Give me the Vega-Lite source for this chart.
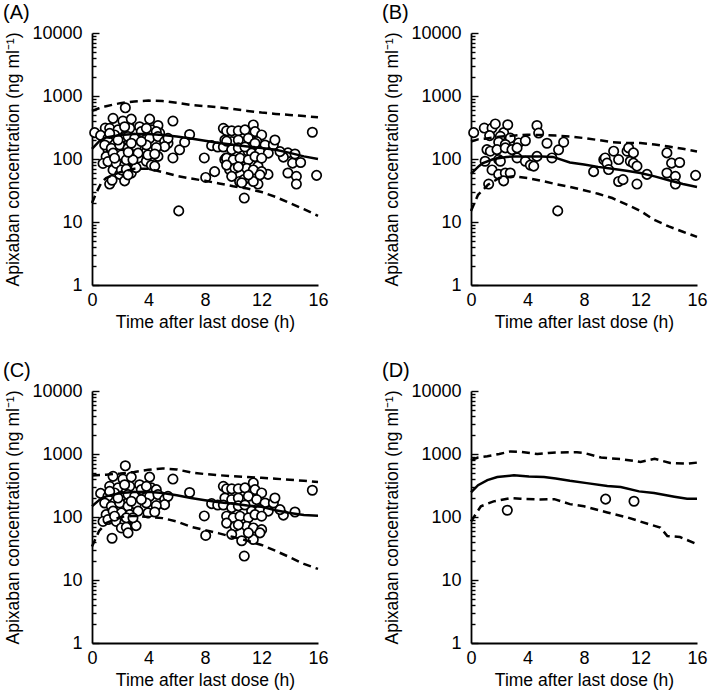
{
"$schema": "https://vega.github.io/schema/vega-lite/v6.json",
"background": "white",
"padding": {"left": 3, "top": 3, "right": 2, "bottom": 2},
"columns": 2,
"spacing": {"row": 106, "column": 153},
"bounds": "flush",
"config": {
  "view": {"stroke": null},
  "font": "Liberation Sans",
  "axis": {"grid": false, "domainColor": "black", "domainWidth": 1.8, "tickColor": "black", "tickWidth": 1.4,
    "gridColor": "black", "gridWidth": 1.4, "gridOpacity": 1,
    "labelFont": "Liberation Sans", "labelFontSize": 18, "labelColor": "black",
    "titleFont": "Liberation Sans", "titleFontSize": 17.5, "titleFontWeight": "normal", "titleColor": "black"},
  "axisX": {"ticks": false, "labelPadding": 6, "titlePadding": 4, "labelFlush": false},
  "axisY": {"labelPadding": 10, "titlePadding": 9, "labelOverlap": false},
  "title": {"font": "Liberation Sans", "fontSize": 20, "fontWeight": "normal", "color": "black", "anchor": "start", "frame": "group", "dx": -89, "offset": 1}
},
"datasets": {
"pts": [
{"g":"B","t":0.19,"c":262},{"g":"B","t":0.94,"c":310},{"g":"B","t":1.49,"c":310},{"g":"B","t":1.72,"c":360},{"g":"B","t":2.31,"c":262},{"g":"B","t":2.6,"c":350},{"g":"B","t":1.32,"c":235},{"g":"B","t":2.08,"c":229},{"g":"B","t":2.78,"c":215},{"g":"B","t":3.37,"c":180},{"g":"B","t":1.96,"c":185},{"g":"B","t":2.43,"c":170},{"g":"B","t":1.13,"c":141},{"g":"B","t":1.37,"c":133},{"g":"B","t":1.84,"c":141},{"g":"B","t":2.43,"c":150},{"g":"B","t":2.9,"c":141},{"g":"B","t":3.26,"c":150},{"g":"B","t":3.85,"c":195},{"g":"B","t":1.0,"c":92},{"g":"B","t":1.96,"c":98},{"g":"B","t":2.08,"c":92},{"g":"B","t":3.26,"c":104},{"g":"B","t":3.85,"c":92},{"g":"B","t":4.2,"c":80},{"g":"B","t":4.44,"c":77},{"g":"B","t":4.67,"c":110},{"g":"B","t":1.49,"c":67},{"g":"B","t":1.96,"c":57},{"g":"B","t":2.43,"c":60},{"g":"B","t":2.78,"c":60},{"g":"B","t":2.31,"c":45},{"g":"B","t":1.25,"c":40},{"g":"B","t":4.67,"c":340},{"g":"B","t":4.79,"c":258},{"g":"B","t":5.38,"c":178},{"g":"B","t":5.73,"c":104},{"g":"B","t":6.2,"c":140},{"g":"B","t":6.56,"c":185},{"g":"B","t":6.14,"c":15},{"g":"B","t":8.68,"c":63},{"g":"B","t":9.4,"c":98},{"g":"B","t":9.5,"c":104},{"g":"B","t":9.63,"c":86},{"g":"B","t":9.74,"c":68},{"g":"B","t":10.1,"c":133},{"g":"B","t":10.45,"c":98},{"g":"B","t":10.45,"c":44},{"g":"B","t":10.76,"c":47},{"g":"B","t":11.05,"c":133},{"g":"B","t":11.16,"c":150},{"g":"B","t":11.28,"c":92},{"g":"B","t":11.5,"c":125},{"g":"B","t":11.5,"c":86},{"g":"B","t":11.75,"c":77},{"g":"B","t":11.75,"c":40},{"g":"B","t":12.46,"c":57},{"g":"B","t":13.87,"c":125},{"g":"B","t":13.87,"c":60},{"g":"B","t":14.2,"c":86},{"g":"B","t":14.47,"c":53},{"g":"B","t":14.47,"c":40},{"g":"B","t":14.77,"c":88},{"g":"B","t":15.9,"c":55},
{"g":"C","t":0.61,"c":237},{"g":"C","t":2.36,"c":650},{"g":"C","t":1.49,"c":442},{"g":"C","t":2.19,"c":400},{"g":"C","t":2.78,"c":430},{"g":"C","t":4.08,"c":430},{"g":"C","t":5.73,"c":400},{"g":"C","t":1.25,"c":307},{"g":"C","t":1.84,"c":290},{"g":"C","t":2.67,"c":307},{"g":"C","t":3.37,"c":325},{"g":"C","t":4.2,"c":290},{"g":"C","t":4.55,"c":272},{"g":"C","t":1.13,"c":213},{"g":"C","t":1.6,"c":241},{"g":"C","t":2.08,"c":213},{"g":"C","t":2.55,"c":227},{"g":"C","t":3.02,"c":213},{"g":"C","t":3.61,"c":241},{"g":"C","t":4.08,"c":213},{"g":"C","t":4.67,"c":227},{"g":"C","t":5.14,"c":189},{"g":"C","t":5.38,"c":213},{"g":"C","t":5.14,"c":157},{"g":"C","t":6.91,"c":245},{"g":"C","t":0.9,"c":167},{"g":"C","t":1.37,"c":148},{"g":"C","t":1.96,"c":167},{"g":"C","t":2.55,"c":148},{"g":"C","t":3.12,"c":157},{"g":"C","t":3.85,"c":167},{"g":"C","t":4.55,"c":152},{"g":"C","t":1.0,"c":109},{"g":"C","t":1.49,"c":124},{"g":"C","t":2.08,"c":116},{"g":"C","t":2.67,"c":109},{"g":"C","t":3.26,"c":124},{"g":"C","t":3.96,"c":116},{"g":"C","t":4.44,"c":120},{"g":"C","t":0.78,"c":85},{"g":"C","t":1.13,"c":91},{"g":"C","t":1.72,"c":85},{"g":"C","t":2.31,"c":80},{"g":"C","t":3.02,"c":75},{"g":"C","t":2.08,"c":67},{"g":"C","t":2.43,"c":69},{"g":"C","t":3.12,"c":73},{"g":"C","t":1.42,"c":46},{"g":"C","t":1.25,"c":255},{"g":"C","t":2.31,"c":325},{"g":"C","t":3.49,"c":272},{"g":"C","t":3.85,"c":307},{"g":"C","t":1.84,"c":200},{"g":"C","t":2.78,"c":178},{"g":"C","t":3.49,"c":189},{"g":"C","t":1.6,"c":103},{"g":"C","t":2.43,"c":97},{"g":"C","t":2.9,"c":97},{"g":"C","t":2.55,"c":56},
{"g":"C","t":7.95,"c":104},{"g":"C","t":8.05,"c":51},{"g":"C","t":8.47,"c":163},{"g":"C","t":8.9,"c":155},{"g":"C","t":9.3,"c":307},{"g":"C","t":9.53,"c":280},{"g":"C","t":9.89,"c":280},{"g":"C","t":10.36,"c":280},{"g":"C","t":10.83,"c":290},{"g":"C","t":11.42,"c":347},{"g":"C","t":11.54,"c":272},{"g":"C","t":12.01,"c":241},{"g":"C","t":9.41,"c":200},{"g":"C","t":9.89,"c":189},{"g":"C","t":10.36,"c":200},{"g":"C","t":11.07,"c":213},{"g":"C","t":11.66,"c":189},{"g":"C","t":12.25,"c":167},{"g":"C","t":12.84,"c":167},{"g":"C","t":12.95,"c":200},{"g":"C","t":13.55,"c":107},{"g":"C","t":14.37,"c":120},{"g":"C","t":15.6,"c":266},{"g":"C","t":9.3,"c":155},{"g":"C","t":9.89,"c":141},{"g":"C","t":10.36,"c":150},{"g":"C","t":10.83,"c":155},{"g":"C","t":11.3,"c":124},{"g":"C","t":11.89,"c":131},{"g":"C","t":12.48,"c":124},{"g":"C","t":13.31,"c":131},{"g":"C","t":9.53,"c":103},{"g":"C","t":10.0,"c":97},{"g":"C","t":10.48,"c":103},{"g":"C","t":11.07,"c":97},{"g":"C","t":11.54,"c":109},{"g":"C","t":12.01,"c":103},{"g":"C","t":9.53,"c":80},{"g":"C","t":10.12,"c":71},{"g":"C","t":10.95,"c":71},{"g":"C","t":11.42,"c":67},{"g":"C","t":12.01,"c":63},{"g":"C","t":9.89,"c":53},{"g":"C","t":10.6,"c":42},{"g":"C","t":11.42,"c":44},{"g":"C","t":10.78,"c":24},{"g":"C","t":11.89,"c":56},{"g":"C","t":11.07,"c":56},{"g":"C","t":10.36,"c":75},
{"g":"D","t":2.57,"c":128},{"g":"D","t":9.53,"c":192},{"g":"D","t":11.54,"c":178}
],
"lines": [
{"p":"A","k":"med","t":0,"c":145},{"p":"A","k":"med","t":0.5,"c":190},{"p":"A","k":"med","t":1,"c":220},{"p":"A","k":"med","t":2,"c":240},{"p":"A","k":"med","t":3,"c":250},{"p":"A","k":"med","t":4,"c":250},{"p":"A","k":"med","t":5,"c":240},{"p":"A","k":"med","t":6,"c":228},{"p":"A","k":"med","t":7,"c":212},{"p":"A","k":"med","t":8,"c":195},{"p":"A","k":"med","t":9,"c":180},{"p":"A","k":"med","t":10,"c":168},{"p":"A","k":"med","t":11,"c":158},{"p":"A","k":"med","t":12,"c":150},{"p":"A","k":"med","t":13,"c":140},{"p":"A","k":"med","t":14,"c":125},{"p":"A","k":"med","t":15,"c":110},{"p":"A","k":"med","t":16,"c":100},
{"p":"A","k":"hi","t":0,"c":580},{"p":"A","k":"hi","t":0.5,"c":640},{"p":"A","k":"hi","t":1,"c":690},{"p":"A","k":"hi","t":2,"c":770},{"p":"A","k":"hi","t":3,"c":820},{"p":"A","k":"hi","t":4,"c":845},{"p":"A","k":"hi","t":5,"c":830},{"p":"A","k":"hi","t":6,"c":780},{"p":"A","k":"hi","t":7,"c":720},{"p":"A","k":"hi","t":8,"c":690},{"p":"A","k":"hi","t":9,"c":660},{"p":"A","k":"hi","t":10,"c":620},{"p":"A","k":"hi","t":11,"c":580},{"p":"A","k":"hi","t":12,"c":545},{"p":"A","k":"hi","t":13,"c":520},{"p":"A","k":"hi","t":14,"c":500},{"p":"A","k":"hi","t":15,"c":480},{"p":"A","k":"hi","t":16,"c":460},
{"p":"A","k":"lo","t":0,"c":20},{"p":"A","k":"lo","t":0.3,"c":29},{"p":"A","k":"lo","t":0.66,"c":42},{"p":"A","k":"lo","t":1,"c":50},{"p":"A","k":"lo","t":2,"c":62},{"p":"A","k":"lo","t":3,"c":70},{"p":"A","k":"lo","t":4,"c":70},{"p":"A","k":"lo","t":5,"c":62},{"p":"A","k":"lo","t":6,"c":54},{"p":"A","k":"lo","t":7,"c":49},{"p":"A","k":"lo","t":8,"c":45},{"p":"A","k":"lo","t":9,"c":41},{"p":"A","k":"lo","t":10,"c":37},{"p":"A","k":"lo","t":11,"c":34},{"p":"A","k":"lo","t":12,"c":30},{"p":"A","k":"lo","t":13,"c":25},{"p":"A","k":"lo","t":14,"c":20},{"p":"A","k":"lo","t":15,"c":16},{"p":"A","k":"lo","t":16,"c":12.5},
{"p":"B","k":"med","t":0,"c":58},{"p":"B","k":"med","t":0.5,"c":75},{"p":"B","k":"med","t":0.8,"c":85},{"p":"B","k":"med","t":1.6,"c":100},{"p":"B","k":"med","t":2.5,"c":108},{"p":"B","k":"med","t":3,"c":110},{"p":"B","k":"med","t":4,"c":110},{"p":"B","k":"med","t":5,"c":110},{"p":"B","k":"med","t":5.8,"c":108},{"p":"B","k":"med","t":7,"c":88},{"p":"B","k":"med","t":8,"c":82},{"p":"B","k":"med","t":9,"c":75},{"p":"B","k":"med","t":10,"c":70},{"p":"B","k":"med","t":11,"c":65},{"p":"B","k":"med","t":12,"c":60},{"p":"B","k":"med","t":13,"c":53},{"p":"B","k":"med","t":14,"c":46},{"p":"B","k":"med","t":15,"c":40},{"p":"B","k":"med","t":16,"c":36},
{"p":"B","k":"hi","t":0,"c":190},{"p":"B","k":"hi","t":0.5,"c":205},{"p":"B","k":"hi","t":1,"c":210},{"p":"B","k":"hi","t":2,"c":225},{"p":"B","k":"hi","t":3,"c":235},{"p":"B","k":"hi","t":4,"c":243},{"p":"B","k":"hi","t":5,"c":240},{"p":"B","k":"hi","t":6,"c":235},{"p":"B","k":"hi","t":7,"c":228},{"p":"B","k":"hi","t":8,"c":215},{"p":"B","k":"hi","t":9,"c":200},{"p":"B","k":"hi","t":10,"c":185},{"p":"B","k":"hi","t":11,"c":180},{"p":"B","k":"hi","t":12,"c":180},{"p":"B","k":"hi","t":13,"c":170},{"p":"B","k":"hi","t":14,"c":158},{"p":"B","k":"hi","t":15,"c":145},{"p":"B","k":"hi","t":16,"c":132},
{"p":"B","k":"lo","t":0,"c":15},{"p":"B","k":"lo","t":0.5,"c":27},{"p":"B","k":"lo","t":1.2,"c":39},{"p":"B","k":"lo","t":2,"c":50},{"p":"B","k":"lo","t":3,"c":53},{"p":"B","k":"lo","t":4,"c":50},{"p":"B","k":"lo","t":5,"c":45},{"p":"B","k":"lo","t":6,"c":40},{"p":"B","k":"lo","t":7,"c":36},{"p":"B","k":"lo","t":8,"c":32},{"p":"B","k":"lo","t":9,"c":28},{"p":"B","k":"lo","t":10,"c":24},{"p":"B","k":"lo","t":11,"c":19},{"p":"B","k":"lo","t":12,"c":15},{"p":"B","k":"lo","t":12.9,"c":11},{"p":"B","k":"lo","t":14,"c":8.5},{"p":"B","k":"lo","t":15,"c":7},{"p":"B","k":"lo","t":16,"c":5.8},
{"p":"C","k":"med","t":0,"c":148},{"p":"C","k":"med","t":0.5,"c":185},{"p":"C","k":"med","t":1,"c":213},{"p":"C","k":"med","t":2,"c":240},{"p":"C","k":"med","t":3,"c":250},{"p":"C","k":"med","t":4,"c":252},{"p":"C","k":"med","t":5,"c":240},{"p":"C","k":"med","t":6,"c":222},{"p":"C","k":"med","t":7,"c":200},{"p":"C","k":"med","t":8,"c":185},{"p":"C","k":"med","t":9,"c":172},{"p":"C","k":"med","t":10,"c":162},{"p":"C","k":"med","t":11,"c":152},{"p":"C","k":"med","t":12,"c":145},{"p":"C","k":"med","t":13,"c":128},{"p":"C","k":"med","t":14,"c":116},{"p":"C","k":"med","t":15,"c":108},{"p":"C","k":"med","t":16,"c":105},
{"p":"C","k":"hi","t":0,"c":455},{"p":"C","k":"hi","t":1,"c":470},{"p":"C","k":"hi","t":2,"c":490},{"p":"C","k":"hi","t":3,"c":520},{"p":"C","k":"hi","t":4,"c":560},{"p":"C","k":"hi","t":5,"c":590},{"p":"C","k":"hi","t":6,"c":570},{"p":"C","k":"hi","t":7,"c":510},{"p":"C","k":"hi","t":8,"c":480},{"p":"C","k":"hi","t":9,"c":460},{"p":"C","k":"hi","t":10,"c":445},{"p":"C","k":"hi","t":11,"c":430},{"p":"C","k":"hi","t":12,"c":418},{"p":"C","k":"hi","t":13,"c":405},{"p":"C","k":"hi","t":14,"c":390},{"p":"C","k":"hi","t":15,"c":375},{"p":"C","k":"hi","t":16,"c":360},
{"p":"C","k":"lo","t":0,"c":34},{"p":"C","k":"lo","t":0.5,"c":60},{"p":"C","k":"lo","t":1,"c":80},{"p":"C","k":"lo","t":2,"c":100},{"p":"C","k":"lo","t":3,"c":105},{"p":"C","k":"lo","t":4,"c":100},{"p":"C","k":"lo","t":5,"c":96},{"p":"C","k":"lo","t":6,"c":85},{"p":"C","k":"lo","t":7,"c":70},{"p":"C","k":"lo","t":8,"c":62},{"p":"C","k":"lo","t":9,"c":55},{"p":"C","k":"lo","t":10,"c":48},{"p":"C","k":"lo","t":11,"c":42},{"p":"C","k":"lo","t":12,"c":36},{"p":"C","k":"lo","t":13,"c":29},{"p":"C","k":"lo","t":14,"c":23},{"p":"C","k":"lo","t":15,"c":18},{"p":"C","k":"lo","t":16,"c":15},
{"p":"D","k":"med","t":0,"c":245},{"p":"D","k":"med","t":0.5,"c":320},{"p":"D","k":"med","t":1.16,"c":385},{"p":"D","k":"med","t":1.86,"c":430},{"p":"D","k":"med","t":3.04,"c":460},{"p":"D","k":"med","t":4.1,"c":440},{"p":"D","k":"med","t":5.17,"c":430},{"p":"D","k":"med","t":6,"c":410},{"p":"D","k":"med","t":7,"c":375},{"p":"D","k":"med","t":8.2,"c":345},{"p":"D","k":"med","t":9.65,"c":310},{"p":"D","k":"med","t":10.6,"c":300},{"p":"D","k":"med","t":11.9,"c":255},{"p":"D","k":"med","t":12.96,"c":240},{"p":"D","k":"med","t":14.4,"c":210},{"p":"D","k":"med","t":15.3,"c":195},{"p":"D","k":"med","t":16,"c":195},
{"p":"D","k":"hi","t":0,"c":800},{"p":"D","k":"hi","t":0.5,"c":880},{"p":"D","k":"hi","t":1.16,"c":920},{"p":"D","k":"hi","t":2,"c":1000},{"p":"D","k":"hi","t":2.8,"c":1100},{"p":"D","k":"hi","t":3.5,"c":1080},{"p":"D","k":"hi","t":4.7,"c":1000},{"p":"D","k":"hi","t":5.5,"c":1040},{"p":"D","k":"hi","t":6.35,"c":1060},{"p":"D","k":"hi","t":7.5,"c":1070},{"p":"D","k":"hi","t":8,"c":1040},{"p":"D","k":"hi","t":9.2,"c":880},{"p":"D","k":"hi","t":10.6,"c":830},{"p":"D","k":"hi","t":12,"c":750},{"p":"D","k":"hi","t":13,"c":840},{"p":"D","k":"hi","t":14.1,"c":720},{"p":"D","k":"hi","t":15.3,"c":700},{"p":"D","k":"hi","t":16,"c":730},
{"p":"D","k":"lo","t":0,"c":85},{"p":"D","k":"lo","t":0.7,"c":148},{"p":"D","k":"lo","t":1.6,"c":177},{"p":"D","k":"lo","t":2.8,"c":200},{"p":"D","k":"lo","t":3.5,"c":195},{"p":"D","k":"lo","t":4.9,"c":190},{"p":"D","k":"lo","t":5.9,"c":192},{"p":"D","k":"lo","t":7,"c":160},{"p":"D","k":"lo","t":8,"c":148},{"p":"D","k":"lo","t":9.65,"c":118},{"p":"D","k":"lo","t":11.1,"c":98},{"p":"D","k":"lo","t":12.5,"c":78},{"p":"D","k":"lo","t":13.4,"c":68},{"p":"D","k":"lo","t":13.9,"c":50},{"p":"D","k":"lo","t":14.8,"c":48},{"p":"D","k":"lo","t":16,"c":37}
]
},
"concat": [
{"title": {"text": "(A)"}, "width": 226, "height": 252,
 "encoding": {"x": {"field": "t", "type": "quantitative", "scale": {"domain": [0, 16], "nice": false}, "axis": {"title": "Time after last dose (h)", "values": [0, 4, 8, 12, 16]}}},
 "layer": [
  {"data": {"name": "pts"}, "mark": {"type": "circle", "size": 88, "fill": "white", "stroke": "black", "strokeWidth": 1.7, "opacity": 1},
   "encoding": {"y": {"field": "c", "type": "quantitative", "scale": {"type": "log", "domain": [1, 10000], "nice": false}, "axis": {"title": "Apixaban concentration (ng ml⁻¹)", "values": [1, 10, 100, 1000, 10000], "format": "d", "ticks": false, "grid": true, "gridDash": [7, 1000]}}}},
  {"data": {"name": "lines"}, "transform": [{"filter": "datum.p == 'A' && datum.k == 'med'"}], "mark": {"type": "line", "color": "black", "strokeWidth": 2.5},
   "encoding": {"y": {"field": "c", "type": "quantitative", "scale": {"type": "log", "domain": [1, 10000], "nice": false}, "axis": {"orient": "left", "title": null, "values": [2,3,4,5,6,7,8,9,20,30,40,50,60,70,80,90,200,300,400,500,600,700,800,900,2000,3000,4000,5000,6000,7000,8000,9000], "labels": false, "domain": false, "ticks": false, "grid": true, "gridDash": [4, 1000]}}}},
  {"data": {"name": "lines"}, "transform": [{"filter": "datum.p == 'A' && datum.k != 'med'"}], "mark": {"type": "line", "color": "black", "strokeWidth": 2.5, "strokeDash": [8, 5]},
   "encoding": {"y": {"field": "c", "type": "quantitative", "scale": {"type": "log", "domain": [1, 10000], "nice": false}, "axis": null}, "detail": {"field": "k"}}}
 ],
 "resolve": {"axis": {"y": "independent"}}},
{"title": {"text": "(B)"}, "width": 226, "height": 252,
 "encoding": {"x": {"field": "t", "type": "quantitative", "scale": {"domain": [0, 16], "nice": false}, "axis": {"title": "Time after last dose (h)", "values": [0, 4, 8, 12, 16]}}},
 "layer": [
  {"data": {"name": "pts"}, "transform": [{"filter": "datum.g == 'B'"}], "mark": {"type": "circle", "size": 88, "fill": "white", "stroke": "black", "strokeWidth": 1.7, "opacity": 1},
   "encoding": {"y": {"field": "c", "type": "quantitative", "scale": {"type": "log", "domain": [1, 10000], "nice": false}, "axis": {"title": "Apixaban concentration (ng ml⁻¹)", "values": [1, 10, 100, 1000, 10000], "format": "d", "ticks": false, "grid": true, "gridDash": [7, 1000]}}}},
  {"data": {"name": "lines"}, "transform": [{"filter": "datum.p == 'B' && datum.k == 'med'"}], "mark": {"type": "line", "color": "black", "strokeWidth": 2.5},
   "encoding": {"y": {"field": "c", "type": "quantitative", "scale": {"type": "log", "domain": [1, 10000], "nice": false}, "axis": {"orient": "left", "title": null, "values": [2,3,4,5,6,7,8,9,20,30,40,50,60,70,80,90,200,300,400,500,600,700,800,900,2000,3000,4000,5000,6000,7000,8000,9000], "labels": false, "domain": false, "ticks": false, "grid": true, "gridDash": [4, 1000]}}}},
  {"data": {"name": "lines"}, "transform": [{"filter": "datum.p == 'B' && datum.k != 'med'"}], "mark": {"type": "line", "color": "black", "strokeWidth": 2.5, "strokeDash": [8, 5]},
   "encoding": {"y": {"field": "c", "type": "quantitative", "scale": {"type": "log", "domain": [1, 10000], "nice": false}, "axis": null}, "detail": {"field": "k"}}}
 ],
 "resolve": {"axis": {"y": "independent"}}},
{"title": {"text": "(C)"}, "width": 226, "height": 252,
 "encoding": {"x": {"field": "t", "type": "quantitative", "scale": {"domain": [0, 16], "nice": false}, "axis": {"title": "Time after last dose (h)", "values": [0, 4, 8, 12, 16]}}},
 "layer": [
  {"data": {"name": "pts"}, "transform": [{"filter": "datum.g == 'C'"}], "mark": {"type": "circle", "size": 88, "fill": "white", "stroke": "black", "strokeWidth": 1.7, "opacity": 1},
   "encoding": {"y": {"field": "c", "type": "quantitative", "scale": {"type": "log", "domain": [1, 10000], "nice": false}, "axis": {"title": "Apixaban concentration (ng ml⁻¹)", "values": [1, 10, 100, 1000, 10000], "format": "d", "ticks": false, "grid": true, "gridDash": [7, 1000]}}}},
  {"data": {"name": "lines"}, "transform": [{"filter": "datum.p == 'C' && datum.k == 'med'"}], "mark": {"type": "line", "color": "black", "strokeWidth": 2.5},
   "encoding": {"y": {"field": "c", "type": "quantitative", "scale": {"type": "log", "domain": [1, 10000], "nice": false}, "axis": {"orient": "left", "title": null, "values": [2,3,4,5,6,7,8,9,20,30,40,50,60,70,80,90,200,300,400,500,600,700,800,900,2000,3000,4000,5000,6000,7000,8000,9000], "labels": false, "domain": false, "ticks": false, "grid": true, "gridDash": [4, 1000]}}}},
  {"data": {"name": "lines"}, "transform": [{"filter": "datum.p == 'C' && datum.k != 'med'"}], "mark": {"type": "line", "color": "black", "strokeWidth": 2.5, "strokeDash": [8, 5]},
   "encoding": {"y": {"field": "c", "type": "quantitative", "scale": {"type": "log", "domain": [1, 10000], "nice": false}, "axis": null}, "detail": {"field": "k"}}}
 ],
 "resolve": {"axis": {"y": "independent"}}},
{"title": {"text": "(D)"}, "width": 226, "height": 252,
 "encoding": {"x": {"field": "t", "type": "quantitative", "scale": {"domain": [0, 16], "nice": false}, "axis": {"title": "Time after last dose (h)", "values": [0, 4, 8, 12, 16]}}},
 "layer": [
  {"data": {"name": "pts"}, "transform": [{"filter": "datum.g == 'D'"}], "mark": {"type": "circle", "size": 88, "fill": "white", "stroke": "black", "strokeWidth": 1.7, "opacity": 1},
   "encoding": {"y": {"field": "c", "type": "quantitative", "scale": {"type": "log", "domain": [1, 10000], "nice": false}, "axis": {"title": "Apixaban concentration (ng ml⁻¹)", "values": [1, 10, 100, 1000, 10000], "format": "d", "ticks": false, "grid": true, "gridDash": [7, 1000]}}}},
  {"data": {"name": "lines"}, "transform": [{"filter": "datum.p == 'D' && datum.k == 'med'"}], "mark": {"type": "line", "color": "black", "strokeWidth": 2.5},
   "encoding": {"y": {"field": "c", "type": "quantitative", "scale": {"type": "log", "domain": [1, 10000], "nice": false}, "axis": {"orient": "left", "title": null, "values": [2,3,4,5,6,7,8,9,20,30,40,50,60,70,80,90,200,300,400,500,600,700,800,900,2000,3000,4000,5000,6000,7000,8000,9000], "labels": false, "domain": false, "ticks": false, "grid": true, "gridDash": [4, 1000]}}}},
  {"data": {"name": "lines"}, "transform": [{"filter": "datum.p == 'D' && datum.k != 'med'"}], "mark": {"type": "line", "color": "black", "strokeWidth": 2.5, "strokeDash": [8, 5]},
   "encoding": {"y": {"field": "c", "type": "quantitative", "scale": {"type": "log", "domain": [1, 10000], "nice": false}, "axis": null}, "detail": {"field": "k"}}}
 ],
 "resolve": {"axis": {"y": "independent"}}}
]
}
